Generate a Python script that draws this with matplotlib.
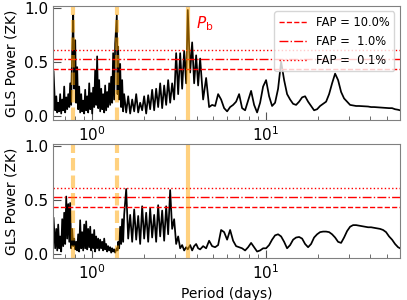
import numpy as np
import matplotlib
matplotlib.use('Agg')
from matplotlib import pyplot as plt
from matplotlib.ticker import NullFormatter

# period grid (days), shared by both periodograms
period = [
    0.602, 0.615, 0.624, 0.632, 0.640, 0.649, 0.657, 0.666, 0.675, 0.684,
    0.693, 0.702, 0.712, 0.721, 0.731, 0.741, 0.750, 0.760, 0.770, 0.781,
    0.791, 0.802, 0.812, 0.823, 0.834, 0.845, 0.856, 0.868, 0.879, 0.891,
    0.903, 0.915, 0.927, 0.940, 0.952, 0.965, 0.978, 0.991, 1.004, 1.017,
    1.031, 1.044, 1.058, 1.072, 1.087, 1.101, 1.116, 1.131, 1.146, 1.161,
    1.177, 1.192, 1.208, 1.224, 1.240, 1.257, 1.274, 1.291, 1.308, 1.325,
    1.343, 1.361, 1.391, 1.405, 1.416, 1.435, 1.454, 1.473, 1.493, 1.513,
    1.533,
    1.575, 1.617, 1.660, 1.705, 1.751, 1.798, 1.846, 1.895, 1.946, 1.998,
    2.052, 2.107, 2.163, 2.221, 2.281, 2.342, 2.405, 2.470, 2.536, 2.604,
    2.674, 2.745, 2.819, 2.894, 2.972, 3.052, 3.134, 3.218, 3.304, 3.393,
    3.484, 3.560, 3.673, 3.772, 3.873, 3.977, 4.083, 4.193,
    4.362, 4.539, 4.722, 4.914, 5.113, 5.320, 5.535, 5.760, 5.993, 6.236,
    6.488, 6.751, 7.025, 7.309, 7.605, 7.913, 8.234, 8.568, 8.915, 9.276,
    9.651, 10.04, 10.45, 10.87, 11.31, 11.77, 12.25, 12.75, 13.26, 13.80,
    14.36, 14.94, 15.55, 16.18, 16.83, 17.51, 18.22, 18.96, 19.73, 20.53,
    21.36, 22.23, 23.13, 24.06, 25.04, 26.05, 27.11, 28.20, 29.35, 30.54,
    31.77, 33.06, 34.40, 35.79, 37.24, 38.75, 40.32, 41.95, 43.65, 45.42,
    47.26, 49.17, 51.17, 53.24, 55.39, 57.64, 59.2,
]

# GLS power of the RVs
power_rv = [
    0.41, 0.05, 0.18, 0.03, 0.12, 0.04, 0.20, 0.02, 0.15, 0.05,
    0.27, 0.03, 0.17, 0.06, 0.20, 0.08, 0.30, 0.10, 0.60, 0.93,
    0.25, 0.70, 0.12, 0.45, 0.06, 0.27, 0.03, 0.20, 0.04, 0.14,
    0.02, 0.24, 0.05, 0.18, 0.03, 0.30, 0.06, 0.21, 0.02, 0.26,
    0.08, 0.42, 0.10, 0.55, 0.07, 0.33, 0.04, 0.25, 0.06, 0.20,
    0.03, 0.28, 0.05, 0.22, 0.08, 0.30, 0.10, 0.36, 0.12, 0.58,
    0.15, 0.67, 0.93, 0.20, 0.64, 0.15, 0.48, 0.08, 0.33, 0.04,
    0.20,
    0.03, 0.18, 0.02, 0.15, 0.04, 0.20, 0.03, 0.12, 0.05, 0.18,
    0.02, 0.19, 0.06, 0.24, 0.05, 0.25, 0.08, 0.30, 0.07, 0.28,
    0.10, 0.33, 0.12, 0.30, 0.15, 0.58, 0.20, 0.58, 0.25, 0.60,
    0.30, 0.98, 0.40, 0.68, 0.30, 0.56, 0.28, 0.53,
    0.15, 0.35, 0.08, 0.10, 0.09, 0.20, 0.15, 0.07, 0.04, 0.08,
    0.10, 0.13, 0.20, 0.07, 0.05, 0.14, 0.23, 0.10, 0.03, 0.12,
    0.27, 0.33, 0.18, 0.09, 0.12, 0.25, 0.50, 0.33, 0.20, 0.15,
    0.11, 0.10, 0.13, 0.17, 0.18, 0.13, 0.09, 0.05, 0.06, 0.09,
    0.11, 0.13, 0.20, 0.30, 0.39, 0.33, 0.22, 0.16, 0.13, 0.10,
    0.095, 0.09, 0.09, 0.088, 0.085, 0.085, 0.08, 0.08, 0.078, 0.075,
    0.075, 0.072, 0.07, 0.07, 0.06, 0.055, 0.05,
]

# GLS power of the residuals
power_res = [
    0.33, 0.05, 0.23, 0.03, 0.27, 0.05, 0.16, 0.02, 0.32, 0.07,
    0.38, 0.09, 0.53, 0.14, 0.46, 0.11, 0.47, 0.05, 0.23, 0.07,
    0.14, 0.04, 0.11, 0.03, 0.18, 0.02, 0.31, 0.05, 0.20, 0.03,
    0.27, 0.05, 0.30, 0.04, 0.23, 0.06, 0.25, 0.03, 0.18, 0.05,
    0.22, 0.02, 0.16, 0.05, 0.14, 0.03, 0.13, 0.05, 0.11, 0.03,
    0.14, 0.04, 0.09, 0.02, 0.07, 0.03, 0.06, 0.01, 0.05, 0.02,
    0.04, 0.01, 0.05, 0.03, 0.11, 0.05, 0.25, 0.09, 0.32, 0.11,
    0.36,
    0.60, 0.14, 0.36, 0.11, 0.41, 0.13, 0.35, 0.09, 0.44, 0.14,
    0.38, 0.11, 0.42, 0.15, 0.36, 0.11, 0.45, 0.16, 0.40, 0.12,
    0.44, 0.18, 0.59, 0.23, 0.32, 0.09, 0.16, 0.05, 0.08, 0.03,
    0.06, 0.04, 0.08, 0.03, 0.07, 0.09, 0.05, 0.04,
    0.07, 0.05, 0.12, 0.07, 0.06, 0.08, 0.22, 0.20, 0.13, 0.22,
    0.12, 0.07, 0.06, 0.05, 0.03, 0.06, 0.10, 0.06, 0.02, 0.03,
    0.05, 0.05, 0.08, 0.13, 0.17, 0.18, 0.16, 0.11, 0.05, 0.08,
    0.13, 0.15, 0.155, 0.14, 0.09, 0.06, 0.09, 0.15, 0.18, 0.20,
    0.205, 0.205, 0.20, 0.18, 0.15, 0.11, 0.10, 0.15, 0.21, 0.25,
    0.265, 0.265, 0.26, 0.255, 0.25, 0.245, 0.245, 0.24, 0.235, 0.23,
    0.22, 0.20, 0.16, 0.13, 0.09, 0.06, 0.05,
]

p_b = 3.56
p_alias = [0.781, 1.391]
fap_levels = [0.43, 0.53, 0.61]
fap_labels = ['FAP = 10.0%', 'FAP =  1.0%', 'FAP =  0.1%']
fap_styles = ['--', '-.', ':']

fig = plt.figure(figsize=(4.07, 3.0), dpi=100)
ax1 = fig.add_axes([0.131, 0.600, 0.852, 0.381])
ax2 = fig.add_axes([0.131, 0.140, 0.852, 0.381])

for ax, power in ((ax1, power_rv), (ax2, power_res)):
    ax.plot(period, power, color='k', lw=1.25)
    for lev, lab, ls in zip(fap_levels, fap_labels, fap_styles):
        ax.axhline(lev, color='red', ls=ls, lw=1.0, label=lab)
    for pa in p_alias:
        ax.axvline(pa, color='orange', alpha=0.5, lw=3, ls=(0, (3, 1.2)))
    ax.axvline(p_b, color='orange', alpha=0.5, lw=3)
    ax.set_xscale('log')
    ax.set_xlim(0.6, 59.2)
    ax.set_ylim(-0.04, 1.02)
    ax.set_yticks([0, 0.5, 1.0])
    ax.xaxis.set_minor_formatter(NullFormatter())
    ax.set_ylabel('GLS Power (ZK)', fontsize=10)
    ax.tick_params(which='both', direction='in', labelsize=11, color='#555555')
    ax.tick_params(which='major', length=6)
    ax.tick_params(which='minor', length=3)
    for sp in ax.spines.values():
        sp.set_color('gray')

ax1.text(3.98, 0.81, r'$P_{\rm b}$', color='red', fontsize=11)
ax1.legend(loc='upper right', fontsize=8.3, handlelength=2.4)
ax2.set_xlabel('Period (days)', fontsize=10)

plt.savefig('out.png', dpi=100)
